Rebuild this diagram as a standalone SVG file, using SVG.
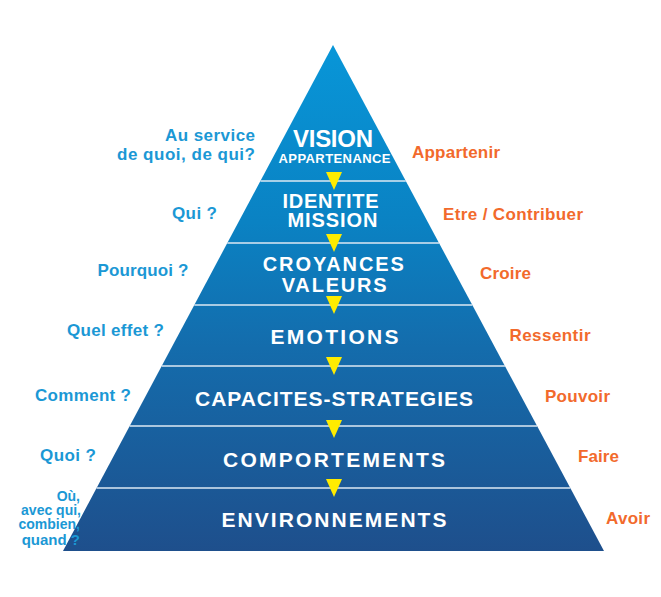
<svg xmlns="http://www.w3.org/2000/svg" width="661" height="597" viewBox="0 0 661 597">
  <style>
    .band { fill: url(#pyr); }
    .lvl { font-family: "Liberation Sans", Arial, sans-serif; font-weight: bold; fill: #ffffff; text-anchor: middle; font-size: 21px; }
    .q { font-family: "Liberation Sans", Arial, sans-serif; font-weight: bold; fill: #1b98d5; text-anchor: end; font-size: 17px; }
    .v { font-family: "Liberation Sans", Arial, sans-serif; font-weight: bold; fill: #f26a2c; text-anchor: start; font-size: 17px; }
    .sm { font-size: 14px; }
    .sep { stroke: #dce8f3; stroke-width: 1.6; }
    .arrow { fill: #ffec00; }
  </style>
  <defs>
    <linearGradient id="pyr" gradientUnits="userSpaceOnUse" x1="0" y1="45" x2="0" y2="551">
      <stop offset="0" stop-color="#0896d8"/>
      <stop offset="0.35" stop-color="#0a82c3"/>
      <stop offset="0.6" stop-color="#146cac"/>
      <stop offset="1" stop-color="#1e4f8c"/>
    </linearGradient>
  </defs>
  <rect width="661" height="597" fill="#ffffff"/>

  <g id="vision">
    <polygon class="band" points="333,45 405.8,181 260.4,181"/>
    <text class="lvl" x="333" y="147" style="font-size:24px" textLength="80" lengthAdjust="spacing">VISION</text>
    <text class="lvl" x="334.5" y="163" style="font-size:13px" textLength="112" lengthAdjust="spacing">APPARTENANCE</text>
    <text class="q" x="255" y="141" textLength="90" lengthAdjust="spacing">Au service</text>
    <text class="q" x="255" y="159.5" textLength="138" lengthAdjust="spacing">de quoi, de qui?</text>
    <text class="v" x="412" y="157.5" textLength="88" lengthAdjust="spacing">Appartenir</text>
  </g>

  <g id="identite">
    <polygon class="band" points="260.4,181 405.8,181 439,243 227.3,243"/>
    <text class="lvl" x="330.5" y="207.5" style="font-size:20px" textLength="96" lengthAdjust="spacing">IDENTITE</text>
    <text class="lvl" x="332.5" y="227" style="font-size:20px" textLength="90" lengthAdjust="spacing">MISSION</text>
    <text class="q" x="217" y="219" textLength="45" lengthAdjust="spacing">Qui ?</text>
    <text class="v" x="443" y="219.5" textLength="140" lengthAdjust="spacing">Etre / Contribuer</text>
  </g>

  <g id="croyances">
    <polygon class="band" points="227.3,243 439,243 472.3,305 194.3,305"/>
    <text class="lvl" x="333.3" y="271" style="font-size:20px" textLength="141" lengthAdjust="spacing">CROYANCES</text>
    <text class="lvl" x="334.2" y="291.5" style="font-size:20px" textLength="105" lengthAdjust="spacing">VALEURS</text>
    <text class="q" x="188.5" y="276" textLength="91" lengthAdjust="spacing">Pourquoi ?</text>
    <text class="v" x="480" y="278.5" textLength="51" lengthAdjust="spacing">Croire</text>
  </g>

  <g id="emotions">
    <polygon class="band" points="194.3,305 472.3,305 504.9,366 161.7,366"/>
    <text class="lvl" x="334.5" y="344" textLength="128" lengthAdjust="spacing">EMOTIONS</text>
    <text class="q" x="164" y="336" textLength="97" lengthAdjust="spacing">Quel effet ?</text>
    <text class="v" x="509.5" y="341" textLength="81" lengthAdjust="spacing">Ressentir</text>
  </g>

  <g id="capacites">
    <polygon class="band" points="161.7,366 504.9,366 537.1,426 129.7,426"/>
    <text class="lvl" x="334" y="406" textLength="278" lengthAdjust="spacing">CAPACITES-STRATEGIES</text>
    <text class="q" x="131" y="400.5" textLength="96" lengthAdjust="spacing">Comment ?</text>
    <text class="v" x="545" y="401.5" textLength="65" lengthAdjust="spacing">Pouvoir</text>
  </g>

  <g id="comportements">
    <polygon class="band" points="129.7,426 537.1,426 570.3,488 96.6,488"/>
    <text class="lvl" x="334" y="467" textLength="222" lengthAdjust="spacing">COMPORTEMENTS</text>
    <text class="q" x="96" y="461" textLength="56" lengthAdjust="spacing">Quoi ?</text>
    <text class="v" x="578" y="461.5" textLength="41" lengthAdjust="spacing">Faire</text>
  </g>

  <g id="environnements">
    <polygon class="band" points="96.6,488 570.3,488 604,551 63,551"/>
    <text class="lvl" x="334" y="527" textLength="225" lengthAdjust="spacing">ENVIRONNEMENTS</text>
    <text class="q sm" x="80" y="501">Où,</text>
    <text class="q sm" x="81" y="515">avec qui,</text>
    <text class="q sm" x="80" y="529">combien,</text>
    <text class="q" x="80" y="545" style="font-size:15px">quand ?</text>
    <text class="v" x="606" y="523.5" textLength="44" lengthAdjust="spacing">Avoir</text>
  </g>

  <g id="connectors">
    <line class="sep" x1="260.4" y1="181" x2="405.8" y2="181"/>
    <line class="sep" x1="227.3" y1="243" x2="439" y2="243"/>
    <line class="sep" x1="194.3" y1="305" x2="472.3" y2="305"/>
    <line class="sep" x1="161.7" y1="366" x2="504.9" y2="366"/>
    <line class="sep" x1="129.7" y1="426" x2="537.1" y2="426"/>
    <line class="sep" x1="96.6" y1="488" x2="570.3" y2="488"/>
    <polygon class="arrow" points="326,172 342,172 334,190"/>
    <polygon class="arrow" points="326,234 342,234 334,252"/>
    <polygon class="arrow" points="326,296 342,296 334,314"/>
    <polygon class="arrow" points="326,357 342,357 334,375"/>
    <polygon class="arrow" points="326,420 342,420 334,438"/>
    <polygon class="arrow" points="326,479 342,479 334,497"/>
  </g>
</svg>
